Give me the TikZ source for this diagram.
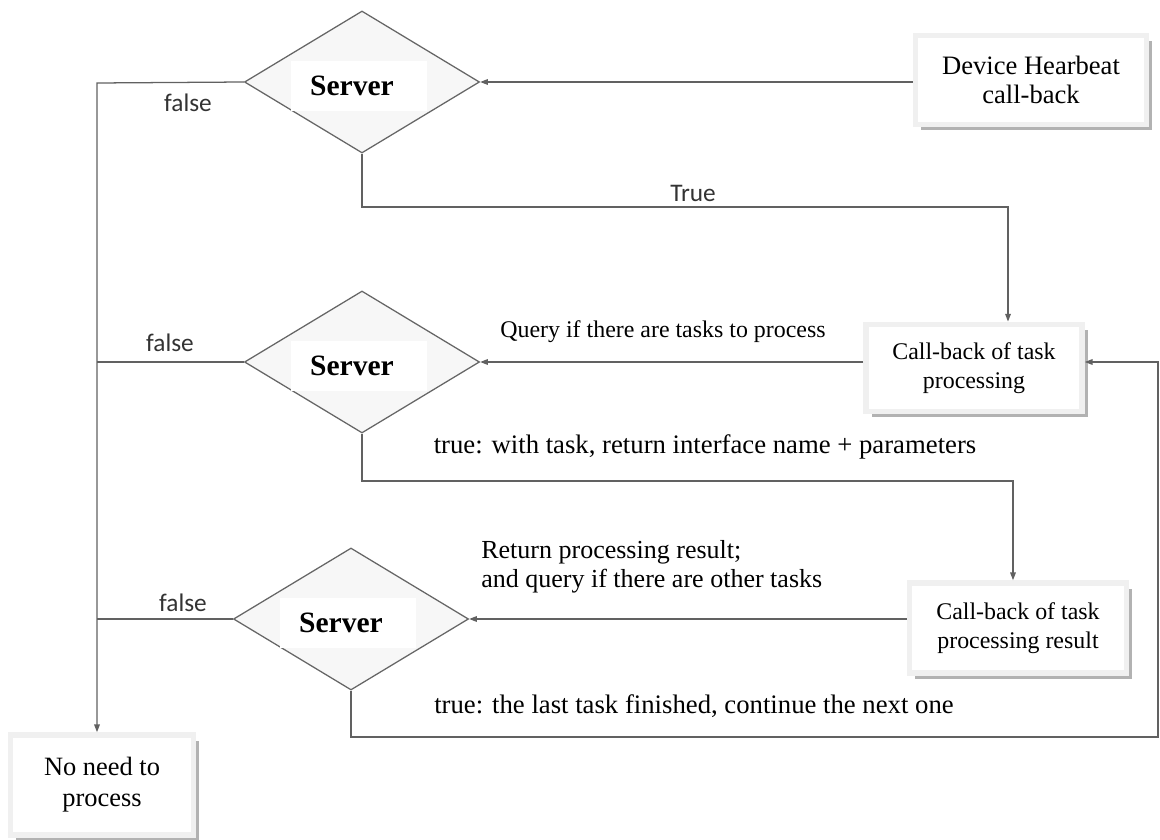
\documentclass[tikz,border=0pt]{standalone}
\usepackage{fontspec}
\setmainfont{Liberation Serif}
\newfontfamily\lblsans{Carlito}
\usetikzlibrary{arrows.meta,positioning,shapes.geometric,shadows}

\begin{document}
\begin{tikzpicture}[x=0.025cm,y=-0.025cm,
  srv/.style={diamond,draw=black!60,fill=gray!6,line width=0.9pt,inner sep=0pt,minimum width=5.875cm,minimum height=3.55cm},
  srvtxt/.style={rectangle,fill=white,inner sep=0pt,minimum width=3.4cm,minimum height=1.25cm,font=\fontsize{21}{24}\selectfont\bfseries},
  cb/.style={rectangle,draw=gray!12,line width=4pt,fill=white,align=center,inner sep=0pt,
     drop shadow={shadow xshift=4pt,shadow yshift=-4pt,fill=gray!60,opacity=1}},
  conn/.style={draw=black!62,line width=0.9pt},
  arr/.style={conn,-{Triangle[length=5.5pt,width=4pt]}},
  fl/.style={font=\lblsans\fontsize{18}{20}\selectfont,text=black!80,inner sep=0pt},
  msg/.style={font=\fontsize{17}{21}\selectfont,inner sep=0pt,align=left}]
  \useasboundingbox (0,0) rectangle (1160,840);
  % the three server checks
  \foreach \n/\x/\y in {1/362/82,2/362/362,3/351/619} {\node[srv] (s\n) at (\x,\y) {};
     \node[srvtxt] (st\n) at ([shift={(-3,4)}]s\n.center) {\hspace*{-0.35cm}\raisebox{-2pt}{Server}};}
  % call-back boxes
  \node[cb,minimum width=5.78cm,minimum height=2.23cm,font=\fontsize{18.9}{21}\selectfont] (hb) at (1031,80) {Device Hearbeat\\call-back};
  \node[cb,minimum width=5.4cm,minimum height=2.18cm,font=\fontsize{17}{21}\selectfont] (tp) at (974,368) {Call-back of task\\processing};
  \node[cb,minimum width=5.43cm,minimum height=2.25cm,font=\fontsize{17}{21}\selectfont] (tr) at (1018,628) {Call-back of task\\processing result};
  \node[cb,minimum width=4.58cm,minimum height=2.5cm,font=\fontsize{18.8}{22}\selectfont] (no) at (102,785) {No need to\\process};
  \coordinate (f0) at (97,83);
  \coordinate (t1) at (1008,207);
  \coordinate (t2) at (1013,481);
  \coordinate (t3) at (1158,737);
  % connectors
  \draw[arr] (hb.west |- s1.east) -- (s1.east);
  \draw[arr] (tp.west |- s2.east) -- (s2.east);
  \draw[arr] (tr.west |- s3.east) -- (s3.east);
  \draw[arr] (s1.south) |- (t1) -- (t1 |- tp.north);
  \draw[arr] (s2.south) |- (t2) -- (t2 |- tr.north);
  \draw[arr] (s3.south) |- (t3) |- (tp.east |- s2.east);
  \draw[arr] (s1.west) -- (f0) -- (f0 |- no.north);
  \draw[conn] (s2.west) -- (s2.west -| f0);
  \draw[conn] (s3.west) -- (s3.west -| f0);
  % labels
  \node[fl] (fa1) at (188,103) {false};
  \node[fl] (fa2) at (170,343) {false};
  \node[fl] (fa3) at (183,603) {false};
  \node[fl] (tr1) at (693,193) {True};
  \node[msg] (q1) at (663,332) {Query if there are tasks to process};
  \node[msg,font=\fontsize{19}{21}\selectfont] (q2) at (705,447) {true: with task, return interface name + parameters};
  \node[msg,anchor=west,font=\fontsize{18.5}{21}\selectfont] (q3) at (481,567) {Return processing result;\\and query if there are other tasks};
  \node[msg,font=\fontsize{19}{21}\selectfont] (q4) at (694,706) {true: the last task finished, continue the next one};
\end{tikzpicture}
\end{document}
